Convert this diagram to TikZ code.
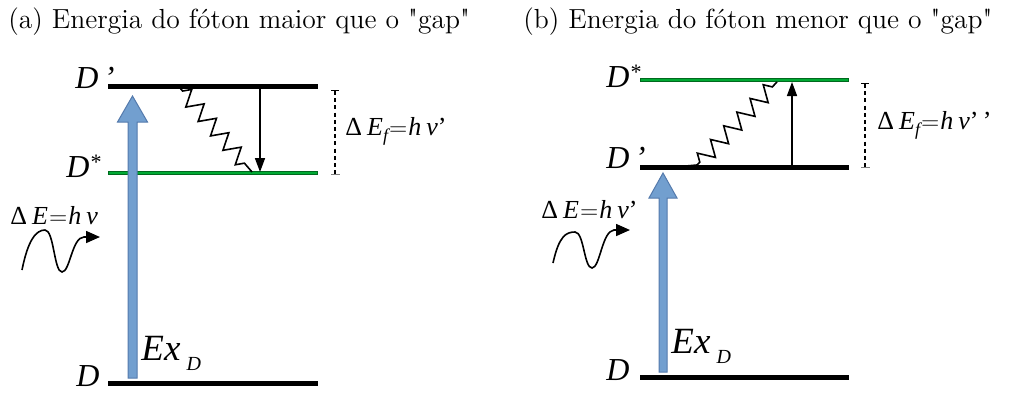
\documentclass[tikz,border=0pt]{standalone}
\usepackage{fontspec}
\newfontfamily\tms{Liberation Serif}
\usetikzlibrary{arrows.meta,decorations.pathmorphing}
\definecolor{exblue}{RGB}{114,159,207}
\definecolor{exedge}{RGB}{84,122,172}
\definecolor{lvgreen}{RGB}{0,169,51}
\definecolor{lvedge}{RGB}{0,105,30}

\begin{document}
\begin{tikzpicture}[x=0.5pt,y=-0.5pt,
  ttl/.style={anchor=base west,inner sep=0pt,font=\fontsize{13.8}{16}\selectfont},
  lvl/.style={anchor=base west,inner sep=0pt,font=\tms\fontsize{16}{18}\selectfont\itshape},
  eqn/.style={anchor=base west,inner sep=0pt,font=\tms\fontsize{13}{15}\selectfont},
  exl/.style={anchor=base west,inner sep=0pt,font=\tms\fontsize{18.5}{20}\selectfont\itshape},
  blev/.style={line width=2.5pt},
  glev/.style={draw=lvedge,line width=2.1pt,postaction={draw=lvgreen,line width=1.1pt,shorten <=0.5pt,shorten >=0.5pt}},
  exarr/.style={fill=exblue,draw=exedge,line width=0.5pt,line join=miter},
  zz/.style={decorate,decoration={zigzag,amplitude=4pt,segment length=9.5pt,pre length=2pt,post length=3pt},line width=0.8pt},
  tra/.style={line width=0.8pt,-{Triangle[length=7pt,width=5pt]}},
  gap/.style={line width=0.65pt,dash pattern=on 2pt off 1.6pt,{Bar[width=4pt]}-{Bar[width=4.5pt,color=gray]}},
  wav/.style={line width=0.8pt,-{Triangle[length=7pt,width=6pt]}}]
\useasboundingbox (0,0) rectangle (1017,392);

% (a)
\node[ttl] (ttlA) at (8,28) {(a) Energia do fóton maior que o \textquotedbl gap\textquotedbl};
\coordinate (aDpL) at (108,86);  \coordinate (aDpR) at (318,86);
\coordinate (aDsL) at (108,173); \coordinate (aDsR) at (318,173);
\coordinate (aDL) at (108,383);  \coordinate (aDR) at (318,383);
\draw[glev] (aDsL) -- (aDsR);
\draw[blev] (aDpL) -- (aDpR);
\draw[blev] (aDL) -- (aDR);
\node[lvl] (aDp) at (75,88) {D\,’};
\node[lvl] (aDs) at (66,177) {D\raisebox{4pt}{\fontsize{11}{11}\selectfont *}};
\node[lvl] (aD) at (76,386) {D};
\draw[exarr] (128,378) -- (137,378) -- (137,122) -- (147.5,122) -- (132.5,96)
  -- (117.5,122) -- (128,122) -- cycle;
\node[exl] (aEx) at (141,360) {Ex\,\raisebox{-5pt}{\fontsize{10}{11}\selectfont D}};
\coordinate (aZ0) at (180,88); \coordinate (aZ1) at (252,172);
\draw[zz] (aZ0) -- (aZ1);
\coordinate (aT0) at (260,88); \coordinate (aT1) at (260,172);
\draw[tra] (aT0) -- (aT1);
\coordinate (aG0) at (335,90); \coordinate (aG1) at (335,175);
\draw[gap] (aG0) -- (aG1);
\node[eqn] (aEf) at (345,135) {Δ\hspace{2.5pt}\textit{E}\raisebox{-3pt}{\fontsize{9}{10}\selectfont\itshape f}\hspace{0.5pt}$=$\hspace{0.5pt}\textit{h}\hspace{2.5pt}\textit{ν}’};
\node[eqn] (aEh) at (10,224) {Δ\hspace{2.5pt}\textit{E}\hspace{0.5pt}$=$\hspace{0.5pt}\textit{h}\hspace{2.5pt}\textit{ν}};
\coordinate (aW0) at (22,270); \coordinate (aW1) at (100,237);
\draw[wav] (aW0) .. controls (28,240) and (36,230) .. (45,230)
  .. controls (54,230) and (54,272) .. (62,272)
  .. controls (70,272) and (72,237) .. (84,237) -- (aW1);

% (b)
\node[ttl] (ttlB) at (523,28) {(b) Energia do fóton menor que o \textquotedbl gap\textquotedbl};
\coordinate (bDsL) at (640,80);  \coordinate (bDsR) at (849,80);
\coordinate (bDpL) at (640,167); \coordinate (bDpR) at (849,167);
\coordinate (bDL) at (640,377);  \coordinate (bDR) at (849,377);
\draw[glev] (bDsL) -- (bDsR);
\draw[blev] (bDpL) -- (bDpR);
\draw[blev] (bDL) -- (bDR);
\node[lvl] (bDs) at (606,87) {D\raisebox{4pt}{\fontsize{11}{11}\selectfont *}};
\node[lvl] (bDp) at (606,168) {D\,’};
\node[lvl] (bD) at (606,380) {D};
\draw[exarr] (659,372) -- (667,372) -- (667,198) -- (677,198) -- (663,173)
  -- (649,198) -- (659,198) -- cycle;
\node[exl] (bEx) at (671,353) {Ex\,\raisebox{-5pt}{\fontsize{10}{11}\selectfont D}};
\coordinate (bZ0) at (697,165); \coordinate (bZ1) at (777,82);
\draw[line width=0.8pt] (686,166) -- (bZ0);
\draw[zz] (bZ0) -- (bZ1);
\coordinate (bT0) at (792,165); \coordinate (bT1) at (792,82);
\draw[tra] (bT0) -- (bT1);
\coordinate (bG0) at (865,83); \coordinate (bG1) at (865,168);
\draw[gap] (bG0) -- (bG1);
\node[eqn] (bEf) at (877,129) {Δ\hspace{2.5pt}\textit{E}\raisebox{-3pt}{\fontsize{9}{10}\selectfont\itshape f}\hspace{0.5pt}$=$\hspace{0.5pt}\textit{h}\hspace{2.5pt}\textit{ν}’\,’};
\node[eqn] (bEh) at (541,218) {Δ\hspace{2.5pt}\textit{E}\hspace{0.5pt}$=$\hspace{0.5pt}\textit{h}\hspace{2.5pt}\textit{ν}’};
\coordinate (bW0) at (553,263); \coordinate (bW1) at (630,230);
\draw[wav] (bW0) .. controls (559,236) and (566,232) .. (575,232)
  .. controls (584,232) and (584,268) .. (592,268)
  .. controls (600,268) and (602,231) .. (614,230) -- (bW1);
\end{tikzpicture}
\end{document}
